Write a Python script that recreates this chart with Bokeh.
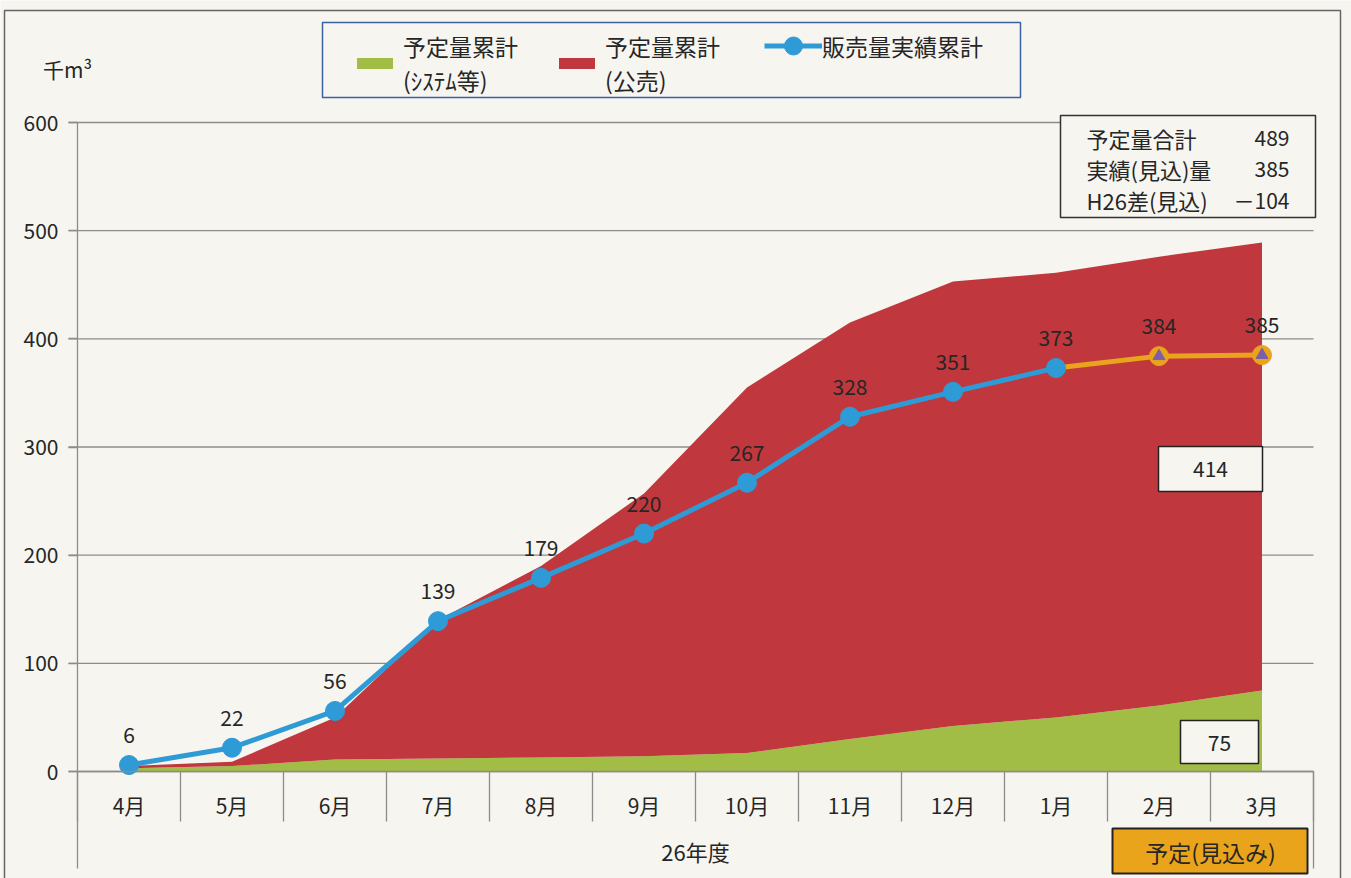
from bokeh.plotting import figure
from bokeh.models import (ColumnDataSource, FixedTicker, Legend, LegendItem, Label,
                          BoxAnnotation, Range1d)
from bokeh.core.properties import value
from bokeh.embed import file_html
from bokeh.resources import INLINE

# ---------------- data ----------------
months = ["4月", "5月", "6月", "7月", "8月", "9月", "10月", "11月", "12月", "1月", "2月", "3月"]
plan_system = [3, 5, 11, 12, 13, 14, 17, 30, 42, 50, 61, 75]          # 予定量累計(ｼｽﾃﾑ等)
plan_total = [5, 9, 50, 140, 190, 257, 355, 415, 453, 461, 476, 489]  # stack top (ｼｽﾃﾑ等 + 公売)
actual = [6, 22, 56, 139, 179, 220, 267, 328, 351, 373]               # 販売量実績累計 4月-1月
forecast_months = ["1月", "2月", "3月"]
forecast = [373, 384, 385]                                            # 見込み
y_ticks = [0, 100, 200, 300, 400, 500, 600]

FONT = "Noto Sans CJK JP"
BG = "#F6F5F0"
GREEN = "#A1BD46"
RED = "#C0383D"
BLUE = "#2E9BD6"
ORANGE = "#EAA41B"
PURPLE = "#7D5FA8"
GRID = "#8C8C8C"
TXT = "#262626"

W, H = 1351, 878
# pixel geometry of the plotting area (frame covers whole canvas)
X_LEFT = 77.0      # px of the left category boundary
PX_CAT = 103.0     # px per category
Y_ZERO = 771.0     # px of value 0
PX_UNIT = 649.0 / 600.0

x_start = -0.5 - X_LEFT / PX_CAT
x_end = -0.5 + (W - X_LEFT) / PX_CAT
y_end = Y_ZERO / PX_UNIT
y_start = -(H - Y_ZERO) / PX_UNIT
y_low = -(868 - Y_ZERO) / PX_UNIT    # lower end of the long divider lines


def sx(px):
    return px


def sy(py):
    return H - py


p = figure(width=W, height=H, x_range=Range1d(x_start, x_end), y_range=Range1d(y_start, y_end),
           output_backend="svg", toolbar_location=None,
           min_border_left=0, min_border_right=0, min_border_top=0, min_border_bottom=0,
           background_fill_color=BG, border_fill_color=BG, outline_line_color=None)

n = len(months)
# gridlines (limited to the category span)
p.segment(x0=[-0.5 - 9 / PX_CAT] * len(y_ticks), x1=[n - 0.5] * len(y_ticks),
          y0=y_ticks, y1=y_ticks, line_color=GRID, line_width=1.3)
# long divider at right end
p.segment(x0=[n - 0.5], x1=[n - 0.5], y0=[0], y1=[y_low], line_color=GRID, line_width=1.3)

# axes
p.xaxis.fixed_location = 0
p.xaxis.bounds = (-0.5, n - 0.5)
p.xaxis.ticker = FixedTicker(ticks=list(range(n)),
                             minor_ticks=[i + 0.5 for i in range(-1, n)])
p.xaxis.major_label_overrides = {i: m for i, m in enumerate(months)}
p.xaxis.major_tick_out = 0
p.xaxis.major_tick_in = 0
p.xaxis.minor_tick_out = 50
p.xaxis.minor_tick_in = 0
p.xaxis.minor_tick_line_color = GRID
p.xaxis.minor_tick_line_width = 1.3
p.xaxis.axis_line_color = GRID
p.xaxis.axis_line_width = 1.3
p.xaxis.major_label_standoff = -32
p.xaxis.major_label_text_font = FONT
p.xaxis.major_label_text_font_size = "21px"
p.xaxis.major_label_text_color = TXT
p.xaxis.axis_label = "26年度"
p.xaxis.axis_label_standoff = 12
p.xaxis.axis_label_text_font = FONT
p.xaxis.axis_label_text_font_size = "22px"
p.xaxis.axis_label_text_font_style = "normal"
p.xaxis.axis_label_text_color = TXT

p.yaxis.fixed_location = -0.5
p.yaxis.bounds = (y_low, 600)
p.yaxis.ticker = FixedTicker(ticks=y_ticks)
p.yaxis.major_tick_out = 9
p.yaxis.major_tick_in = 0
p.yaxis.major_tick_line_color = GRID
p.yaxis.major_tick_line_width = 1.3
p.yaxis.minor_tick_line_color = None
p.yaxis.axis_line_color = GRID
p.yaxis.axis_line_width = 1.3
p.yaxis.major_label_standoff = 10
p.yaxis.major_label_text_font = FONT
p.yaxis.major_label_text_font_size = "21px"
p.yaxis.major_label_text_color = TXT

p.xgrid.grid_line_color = None
p.ygrid.grid_line_color = None

# stacked areas
xs = list(range(n))
src_area = ColumnDataSource(dict(x=xs, sys=plan_system, tot=plan_total))
g_area = p.varea(x="x", y1=0, y2="sys", source=src_area, fill_color=GREEN)
r_area = p.varea(x="x", y1="sys", y2="tot", source=src_area, fill_color=RED)

# forecast line (under the actual line)
fx = [months.index(m) for m in forecast_months]
src_fc = ColumnDataSource(dict(x=fx, y=forecast))
p.line(x="x", y="y", source=src_fc, line_color=ORANGE, line_width=5)
src_fc_pts = ColumnDataSource(dict(x=fx[1:], y=forecast[1:], t=[str(v) for v in forecast[1:]]))
p.scatter(x="x", y="y", source=src_fc_pts, size=19, fill_color=ORANGE, line_color=ORANGE)
p.scatter(x="x", y="y", source=src_fc_pts, marker="triangle", size=12,
          fill_color=PURPLE, line_color=PURPLE)

# actual line
src_act = ColumnDataSource(dict(x=list(range(len(actual))), y=actual,
                                t=[str(v) for v in actual]))
b_line = p.line(x="x", y="y", source=src_act, line_color=BLUE, line_width=5)
b_pts = p.scatter(x="x", y="y", source=src_act, size=19, fill_color=BLUE, line_color=BLUE)

# value labels
for s in (src_act, src_fc_pts):
    p.text(x="x", y="y", text="t", source=s, y_offset=-30, text_align="center",
           text_baseline="middle", text_font=value(FONT), text_font_size="21px",
           text_color=TXT)


def box(l, t, r, b, fill=None, line="#333333", lw=1.5):
    ba = BoxAnnotation(left=sx(l), right=sx(r), top=sy(t), bottom=sy(b),
                       left_units="screen", right_units="screen",
                       top_units="screen", bottom_units="screen",
                       fill_color=fill if fill else BG, fill_alpha=1 if fill else 0,
                       line_color=line, line_width=lw, line_alpha=1)
    p.add_layout(ba)


def lab(text, px, py, align="center", size="20px", color=TXT):
    p.add_layout(Label(x=sx(px), y=sy(py), x_units="screen", y_units="screen", text=text,
                       text_align=align, text_baseline="middle", text_font=FONT,
                       text_font_size=size, text_color=color))


# outer frame lines
box(4, 10, 1340, 900, None, "#666666", 1.5)

# unit label
lab("千m³", 67, 68, size="21px")

# legend frame + legends
box(322, 22, 1020, 97, BG, "#3A62A0", 1.5)
legend = Legend(items=[
    LegendItem(label="予定量累計\n(ｼｽﾃﾑ等)", renderers=[g_area]),
    LegendItem(label="予定量累計\n(公売)", renderers=[r_area]),
], location=(352, H - 97), orientation="horizontal",
    label_text_font=FONT, label_text_font_size="23px", label_text_line_height=1.3,
    label_text_color=TXT, glyph_width=45, glyph_height=14, label_standoff=6,
    spacing=36, padding=8, margin=0, border_line_color=None, background_fill_alpha=0)
p.add_layout(legend)
legend2 = Legend(items=[
    LegendItem(label="販売量実績累計", renderers=[b_line, b_pts]),
], location=(764, H - 68), orientation="horizontal",
    label_text_font=FONT, label_text_font_size="23px",
    label_text_color=TXT, glyph_width=58, glyph_height=45, label_standoff=0,
    spacing=0, padding=0, margin=0, border_line_color=None, background_fill_alpha=0)
p.add_layout(legend2)

# summary box
total_plan = plan_total[-1]
total_fc = forecast[-1]
diff = total_fc - total_plan
box(1060, 115, 1315, 217, BG, "#333333", 1.5)
for i, (name, num) in enumerate([("予定量合計", str(total_plan)),
                                  ("実績(見込)量", str(total_fc)),
                                  ("H26差(見込)", ("－" if diff < 0 else "") + str(abs(diff)))]):
    yy = 137 + 31 * i
    lab(name, 1086, yy, align="left", size="22px")
    lab(num, 1289, yy, align="right", size="21px")

# end-of-year component boxes
red_last = plan_total[-1] - plan_system[-1]
box(1158, 446, 1262, 491, BG, "#222222", 1.5)
lab(str(red_last), 1210, 468, size="21px")
box(1180, 720, 1258, 763, BG, "#222222", 1.5)
lab(str(plan_system[-1]), 1219, 742, size="21px")

# forecast tag
box(1112, 828, 1307, 873, ORANGE, "#222222", 2)
lab("予定(見込み)", 1210, 851, size="23px")

open("out.html", "w").write(file_html(p, INLINE))
